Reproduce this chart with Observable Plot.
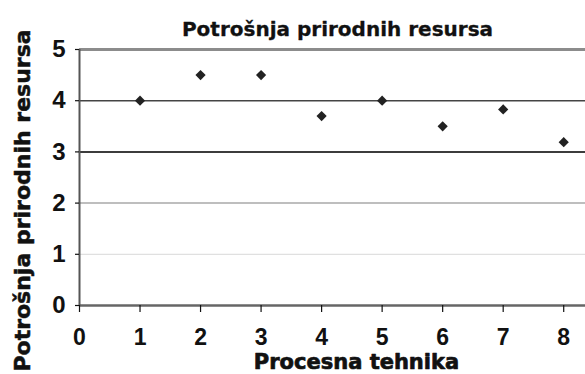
<!DOCTYPE html>
<html>
<head>
<meta charset="utf-8">
<script src="https://cdn.jsdelivr.net/npm/d3@7"></script>
<script src="https://cdn.jsdelivr.net/npm/@observablehq/plot@0.6"></script>
<style>
  html, body { margin: 0; padding: 0; background: #fff; }
</style>
</head>
<body>
<div id="chart"></div>
<script>
// Process technique number and its natural-resource consumption score
const tehnika = [1, 2, 3, 4, 5, 6, 7, 8];
const potrosnja = [4.0, 4.5, 4.5, 3.7, 4.0, 3.5, 3.83, 3.19];
const yTicks = [0, 1, 2, 3, 4, 5];
const xTicks = [0, 1, 2, 3, 4, 5, 6, 7, 8];
const naslov = "Potrošnja prirodnih resursa";
const xNaziv = "Procesna tehnika";
const yNaziv = "Potrošnja prirodnih resursa";

const data = tehnika.map((t, i) => ({t, v: potrosnja[i]}));

// gridline shades, lighter toward the bottom of the frame
const gridColor = v => ({5: "#8c8c8c", 4: "#444", 3: "#3c3c3c", 2: "#a8a8a8", 1: "#e0e0e0"})[v];
const gridWidth = v => ({5: 3, 4: 1.5, 3: 2, 2: 1.5, 1: 1.2})[v];

const tickFont = {fontFamily: "Liberation Sans, Arial, sans-serif", fontWeight: "bold",
                  fill: "#111", stroke: "#111", strokeWidth: 1.2};
const labelFont = {fontFamily: "DejaVu Sans, sans-serif", fontWeight: "bold",
                   fill: "#111", stroke: "#111", strokeWidth: 0.5, textAnchor: "middle", lineAnchor: "middle"};

const chart = Plot.plot({
  width: 585,
  height: 374,
  marginLeft: 79,
  marginRight: 0,
  marginTop: 49,
  marginBottom: 69,
  style: {background: "#fff"},
  x: {domain: [0, 8.36], ticks: xTicks, label: null},
  y: {domain: [0, 5], ticks: yTicks, label: null},
  marks: [
    Plot.ruleY(yTicks.filter(v => v > 0), {y: d => d, stroke: gridColor, strokeWidth: gridWidth}),
    Plot.ruleY([0], {stroke: "#666", strokeWidth: 2.5}),
    Plot.ruleX([0], {stroke: "#555", strokeWidth: 2}),
    Plot.axisY({ticks: yTicks, tickFormat: d => String(d), tickSize: 4, tickPadding: 10, label: null, fontSize: 24, ...tickFont}),
    Plot.axisX({ticks: xTicks, tickFormat: d => String(d), tickSize: 7, tickPadding: 16, label: null, fontSize: 23, ...tickFont}),
    Plot.dot(data, {x: "t", y: "v", symbol: "diamond2", r: 4.6, fill: "#222"}),
    Plot.text([naslov], {frameAnchor: "top", dx: 5, dy: -20, fontSize: 20, ...labelFont, strokeWidth: 0.3}),
    Plot.text([xNaziv], {frameAnchor: "bottom", dx: 24, dy: 57, fontSize: 21, ...labelFont, strokeWidth: 0.7}),
    // rotated label: dx/dy offsets are in screen space
    Plot.text([yNaziv], {frameAnchor: "left", rotate: -90, dx: -57, dy: 23, fontSize: 22, ...labelFont})
  ]
});

document.getElementById("chart").appendChild(chart);
</script>
</body>
</html>
